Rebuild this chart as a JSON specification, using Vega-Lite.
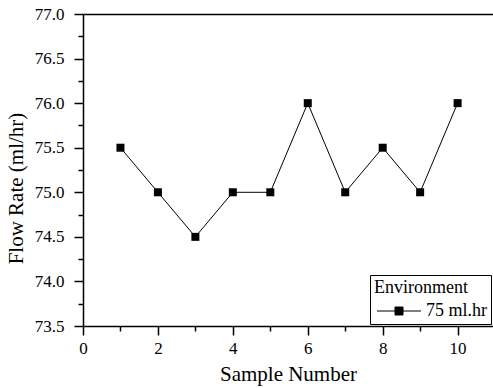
{
  "$schema": "https://vega.github.io/schema/vega-lite/v6.json",
  "width": 410,
  "height": 312,
  "autosize": {"type": "none"},
  "padding": {"left": 83, "top": 14, "right": 0, "bottom": 62},
  "background": "white",
  "config": {
    "font": "Liberation Serif",
    "view": {"stroke": null},
    "style": {"guide-label": {"font": "Liberation Serif"}, "guide-title": {"font": "Liberation Serif"}},
    "axis": {
      "grid": false,
      "domainColor": "black",
      "domainWidth": 1.5,
      "tickColor": "black",
      "tickWidth": 1.5,
      "labelColor": "black",
      "labelFont": "Liberation Serif",
      "labelFontSize": 17,
      "titleColor": "black",
      "titleFont": "Liberation Serif",
      "titleFontSize": 21,
      "titleFontWeight": "normal",
      "labelFlush": false,
      "labelOverlap": false
    }
  },
  "data": {
    "values": [
      {"sample": 1, "flow": 75.5, "series": "75 ml.hr"},
      {"sample": 2, "flow": 75.0, "series": "75 ml.hr"},
      {"sample": 3, "flow": 74.5, "series": "75 ml.hr"},
      {"sample": 4, "flow": 75.0, "series": "75 ml.hr"},
      {"sample": 5, "flow": 75.0, "series": "75 ml.hr"},
      {"sample": 6, "flow": 76.0, "series": "75 ml.hr"},
      {"sample": 7, "flow": 75.0, "series": "75 ml.hr"},
      {"sample": 8, "flow": 75.5, "series": "75 ml.hr"},
      {"sample": 9, "flow": 75.0, "series": "75 ml.hr"},
      {"sample": 10, "flow": 76.0, "series": "75 ml.hr"}
    ]
  },
  "layer": [
    {
      "mark": {"type": "line", "strokeWidth": 1},
      "encoding": {
        "x": {
          "field": "sample", "type": "quantitative",
          "scale": {"domain": [0, 10.945], "nice": false, "zero": false},
          "axis": {"orient": "bottom", "values": [0, 2, 4, 6, 8, 10], "tickSize": 9, "labelPadding": 5, "labelFont": "Liberation Serif", "title": "Sample Number", "titlePadding": 7}
        },
        "y": {
          "field": "flow", "type": "quantitative",
          "scale": {"domain": [73.5, 77], "nice": false, "zero": false},
          "axis": {"orient": "left", "values": [73.5, 74, 74.5, 75, 75.5, 76, 76.5, 77], "format": ".1f", "tickSize": 9, "labelPadding": 10, "labelFont": "Liberation Serif", "title": "Flow Rate (ml/hr)", "titleX": -57, "titleY": 174}
        },
        "color": {
          "field": "series", "type": "nominal",
          "scale": {"domain": ["75 ml.hr"], "range": ["black"]},
          "legend": {
            "title": "Environment",
            "orient": "none",
            "legendX": 287,
            "legendY": 261,
            "padding": 4,
            "strokeColor": "black",
            "fillColor": "white",
            "titleFont": "Liberation Serif",
            "titleFontSize": 18,
            "titleFontWeight": "normal",
            "titleColor": "black",
            "titlePadding": 5,
            "labelFont": "Liberation Serif",
            "labelFontSize": 18,
            "labelColor": "black",
            "symbolType": "M-5.5,0H5.5M-1,-1H1V1H-1Z",
            "symbolSize": 64,
            "symbolStrokeColor": "black",
            "symbolFillColor": "black",
            "symbolStrokeWidth": 1,
            "symbolOffset": 16,
            "labelOffset": 18
          }
        }
      }
    },
    {
      "mark": {"type": "point", "shape": "square", "filled": true, "size": 64, "opacity": 1},
      "encoding": {
        "x": {"field": "sample", "type": "quantitative", "axis": null},
        "y": {"field": "flow", "type": "quantitative", "axis": null},
        "color": {"field": "series", "type": "nominal"}
      }
    },
    {
      "mark": {"type": "point", "opacity": 0},
      "encoding": {
        "x": {"field": "sample", "type": "quantitative", "axis": {"orient": "bottom", "values": [1, 3, 5, 7, 9], "tickSize": 5, "labels": false, "title": null, "domain": false}},
        "y": {"field": "flow", "type": "quantitative", "axis": {"orient": "left", "values": [73.75, 74.25, 74.75, 75.25, 75.75, 76.25, 76.75], "tickSize": 5, "labels": false, "title": null, "domain": false}}
      }
    },
    {
      "mark": {"type": "point", "opacity": 0},
      "encoding": {
        "x": {"field": "sample", "type": "quantitative", "axis": {"orient": "top", "ticks": false, "labels": false, "title": null, "domain": true}},
        "y": {"field": "flow", "type": "quantitative", "axis": null}
      }
    }
  ],
  "resolve": {"axis": {"x": "independent", "y": "independent"}}
}
